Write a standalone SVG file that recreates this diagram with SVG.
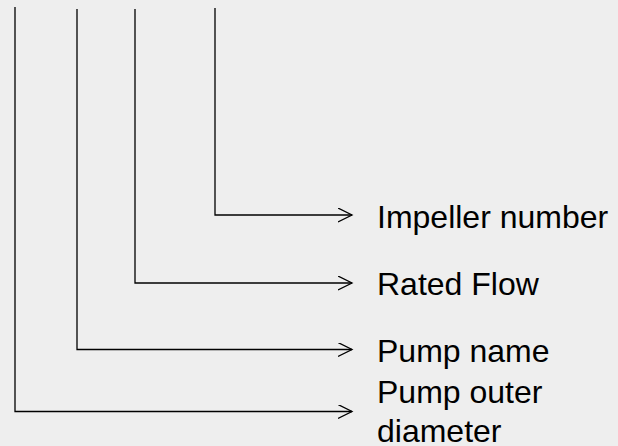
<svg xmlns="http://www.w3.org/2000/svg" width="618" height="446" viewBox="0 0 618 446">
<defs>
<style>
.c{fill:none;stroke:#000;stroke-width:1.3}
.t{font-family:"Liberation Sans",Arial,sans-serif;font-size:32px;fill:#000}
</style>
<marker id="a" markerWidth="16" markerHeight="16" refX="14" refY="7" orient="auto" markerUnits="userSpaceOnUse">
<path d="M0,0 L14,7 L0,14" fill="none" stroke="#000" stroke-width="1.3"/>
</marker>
</defs>
<rect width="618" height="446" fill="#eeeeee"/>
<g id="connectors">
<path class="c" d="M15,7 V411.5 H352" marker-end="url(#a)"/>
<path class="c" d="M77,9 V349.5 H352" marker-end="url(#a)"/>
<path class="c" d="M135,9 V283 H352" marker-end="url(#a)"/>
<path class="c" d="M215,8 V215 H352" marker-end="url(#a)"/>
</g>
<g id="impeller"><text class="t" x="377" y="228">Impeller number</text></g>
<g id="flow"><text class="t" x="377" y="295">Rated Flow</text></g>
<g id="name"><text class="t" x="377" y="362">Pump name</text></g>
<g id="diameter"><text class="t" x="377" y="403">Pump outer</text><text class="t" x="377" y="442">diameter</text></g>
</svg>
